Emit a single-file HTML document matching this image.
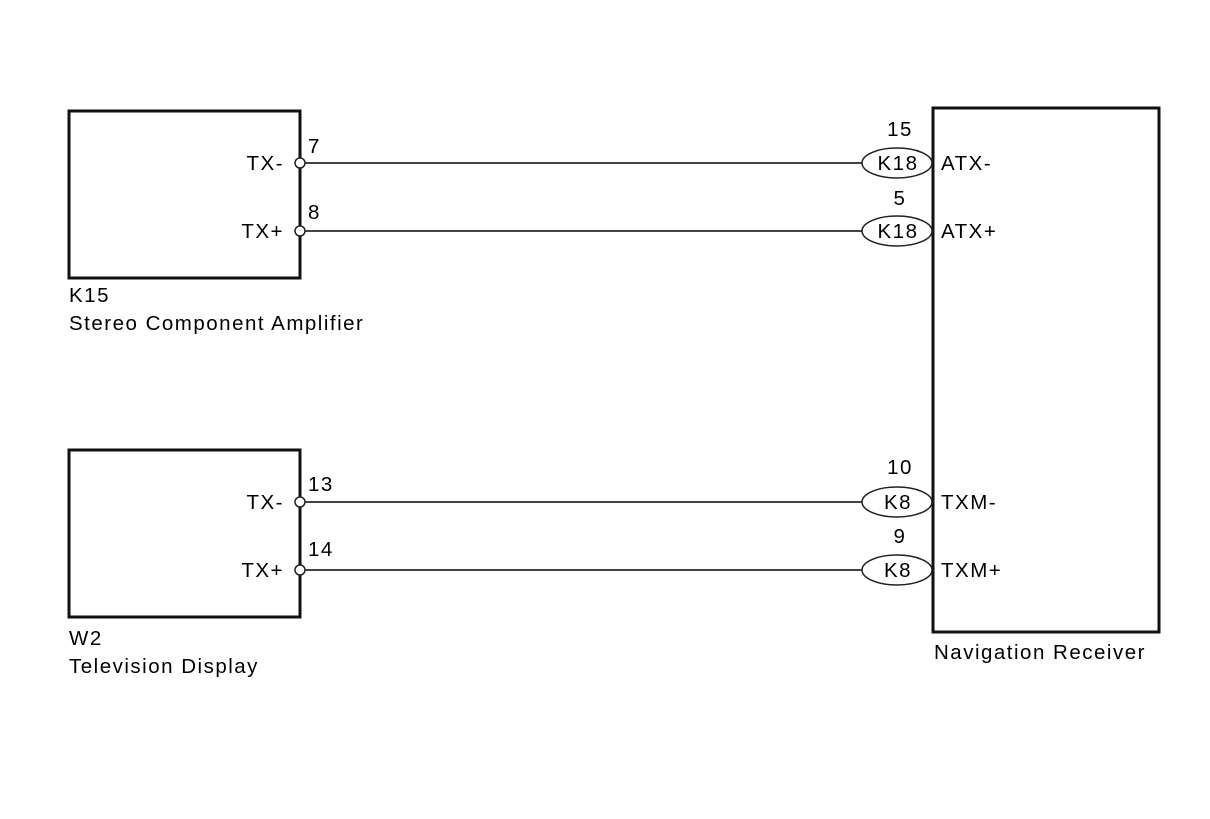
<!DOCTYPE html>
<html><head><style>body{margin:0;background:#fff}</style></head><body>
<svg width="1210" height="814" xmlns="http://www.w3.org/2000/svg" font-family="Liberation Sans, sans-serif" font-size="20.5" letter-spacing="1.5" fill="#000">
<rect width="1210" height="814" fill="#fff"/>
<g fill="none" stroke="#111" stroke-width="3">
<rect x="69" y="111" width="231" height="167"/>
<rect x="69" y="450" width="231" height="167"/>
<rect x="933" y="108" width="226" height="524"/>
</g>
<g stroke="#444" stroke-width="2">
<line x1="305" y1="163" x2="862" y2="163"/>
<line x1="305" y1="231" x2="862" y2="231"/>
<line x1="305" y1="502" x2="862" y2="502"/>
<line x1="305" y1="570" x2="862" y2="570"/>
</g>
<g fill="#fff" stroke="#222" stroke-width="1.5">
<circle cx="300" cy="163" r="5"/><circle cx="300" cy="231" r="5"/>
<circle cx="300" cy="502" r="5"/><circle cx="300" cy="570" r="5"/>
<ellipse cx="897" cy="163" rx="35" ry="15"/><ellipse cx="897" cy="231" rx="35" ry="15"/>
<ellipse cx="897" cy="502" rx="35" ry="15"/><ellipse cx="897" cy="570" rx="35" ry="15"/>
</g>
<g text-anchor="end">
<text x="284" y="170">TX-</text><text x="284" y="238">TX+</text>
<text x="284" y="509">TX-</text><text x="284" y="577">TX+</text>
</g>
<text x="308" y="153">7</text><text x="308" y="219">8</text>
<text x="308" y="491">13</text><text x="308" y="556">14</text>
<g text-anchor="middle">
<text x="900" y="136">15</text><text x="900" y="205">5</text>
<text x="900" y="474">10</text><text x="900" y="543">9</text>
<text x="898" y="170">K18</text><text x="898" y="238">K18</text>
<text x="898" y="509">K8</text><text x="898" y="577">K8</text>
</g>
<text x="941" y="170">ATX-</text><text x="941" y="238">ATX+</text>
<text x="941" y="509">TXM-</text><text x="941" y="577">TXM+</text>
<text x="69" y="302">K15</text><text x="69" y="330">Stereo Component Amplifier</text>
<text x="69" y="645">W2</text><text x="69" y="673">Television Display</text>
<text x="934" y="659">Navigation Receiver</text>
</svg>
</body></html>
